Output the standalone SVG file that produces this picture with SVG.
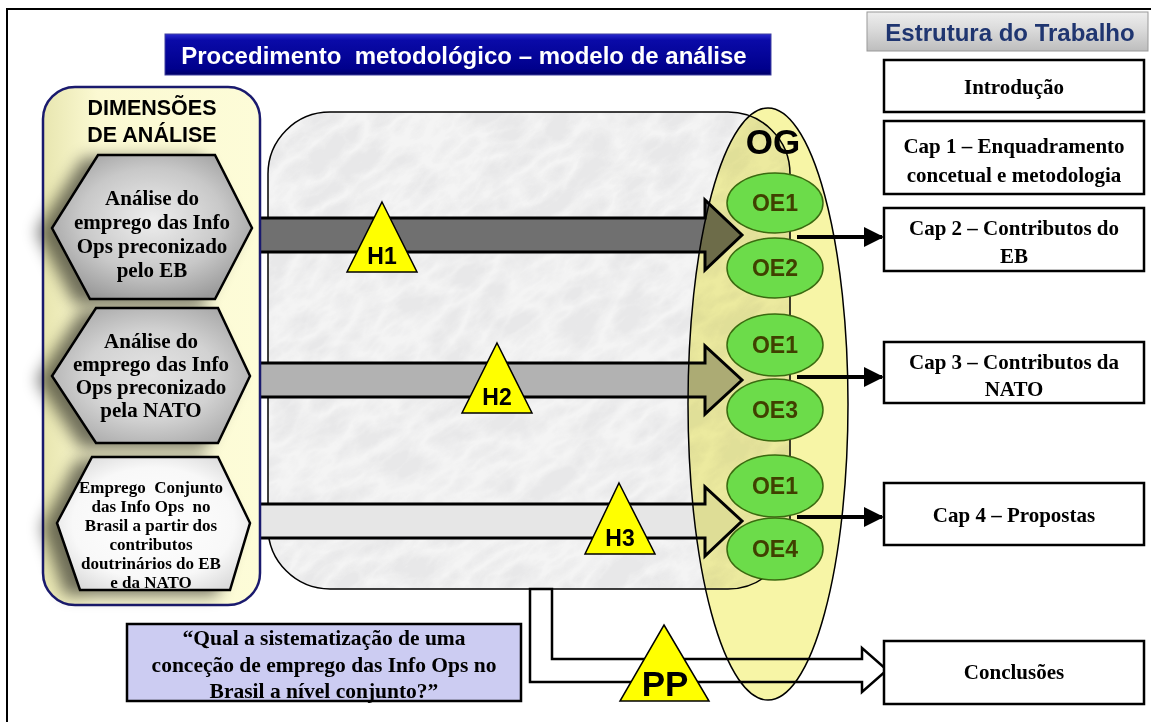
<svg xmlns="http://www.w3.org/2000/svg" width="1151" height="722" viewBox="0 0 1151 722">
<style>
.ar{font-family:"Liberation Sans",Arial,sans-serif;font-weight:bold}
.sf{font-family:"Liberation Serif","Times New Roman",serif;font-weight:bold;fill:#000}
.box{fill:#fff;stroke:#000;stroke-width:2.5}
.oe{fill:#6cdc4a;stroke:#3a6a10;stroke-width:1.5}
.oet{font-family:"Liberation Sans",Arial,sans-serif;font-weight:bold;font-size:23px;fill:#404000;text-anchor:middle}
.tri{fill:#ffff00;stroke:#000;stroke-width:1.5}
.trit{font-family:"Liberation Sans",Arial,sans-serif;font-weight:bold;fill:#000;text-anchor:middle}
.hx{stroke:#000;stroke-width:2.5}
.ht{font-family:"Liberation Serif","Times New Roman",serif;font-weight:bold;fill:#000;text-anchor:middle}
</style>
<defs>
<linearGradient id="gTitle" x1="0" y1="0" x2="0" y2="1">
<stop offset="0" stop-color="#2a2ad0"/><stop offset="0.15" stop-color="#0a0aa8"/><stop offset="0.85" stop-color="#00008c"/><stop offset="1" stop-color="#000066"/>
</linearGradient>
<linearGradient id="gEst" x1="0" y1="0" x2="0" y2="1">
<stop offset="0" stop-color="#eeeeee"/><stop offset="0.5" stop-color="#d8d8d8"/><stop offset="1" stop-color="#bdbdbd"/>
</linearGradient>
<linearGradient id="gPanel" x1="0" y1="0" x2="1" y2="0">
<stop offset="0" stop-color="#e8e6b0"/><stop offset="0.25" stop-color="#fbf9d2"/><stop offset="1" stop-color="#fdfcd8"/>
</linearGradient>
<radialGradient id="gHex1" cx="0.5" cy="0.45" r="0.6">
<stop offset="0" stop-color="#eeeeee"/><stop offset="0.6" stop-color="#c8c8c8"/><stop offset="1" stop-color="#9a9a9a"/>
</radialGradient>
<radialGradient id="gHex2" cx="0.5" cy="0.5" r="0.6">
<stop offset="0" stop-color="#e4e4e4"/><stop offset="0.55" stop-color="#d2d2d2"/><stop offset="1" stop-color="#a8a8a8"/>
</radialGradient>
<radialGradient id="gHex3" cx="0.5" cy="0.5" r="0.6">
<stop offset="0" stop-color="#ffffff"/><stop offset="0.7" stop-color="#f8f8f8"/><stop offset="1" stop-color="#dcdcdc"/>
</radialGradient>
<filter id="hshadow" x="-40%" y="-30%" width="180%" height="160%">
<feGaussianBlur in="SourceAlpha" stdDeviation="8"/>
<feOffset dx="-14" dy="4"/>
<feComponentTransfer><feFuncA type="linear" slope="0.55"/></feComponentTransfer>
<feMerge><feMergeNode/><feMergeNode in="SourceGraphic"/></feMerge>
</filter>
<filter id="marble" x="0" y="0" width="100%" height="100%">
<feTurbulence type="turbulence" baseFrequency="0.018 0.035" numOctaves="4" seed="11" result="n"/>
<feColorMatrix in="n" type="matrix" values="0 0 0 0 0.62  0 0 0 0 0.62  0 0 0 0 0.64  2.2 0 0 0 -0.25"/>
</filter>
<clipPath id="cMarble"><rect x="268" y="112" width="522" height="477" rx="62" ry="62"/></clipPath>
<marker id="mArr" viewBox="0 0 10 10" refX="9" refY="5" markerWidth="5" markerHeight="5" orient="auto" markerUnits="strokeWidth">
<path d="M0,0 L10,5 L0,10 z" fill="#000"/>
</marker>
</defs>

<rect x="0" y="0" width="1151" height="722" fill="#fff"/>
<path d="M7,722 L7,9 L1151,9" fill="none" stroke="#000" stroke-width="2"/>

<g id="title">
<rect x="165" y="34" width="606" height="41" fill="url(#gTitle)" stroke="#4040a0" stroke-width="1"/>
<text x="464" y="64" class="ar" font-size="24" fill="#fff" text-anchor="middle" style="white-space:pre">Procedimento  metodológico – modelo de análise</text>
</g>

<g id="estrutura">
<rect x="867" y="12" width="281" height="39" fill="url(#gEst)" stroke="#999" stroke-width="1"/>
<text x="1010" y="41" class="ar" font-size="24" fill="#1f3570" text-anchor="middle">Estrutura do Trabalho</text>
</g>

<g id="marble-area">
<rect x="268" y="112" width="522" height="477" rx="62" ry="62" fill="#f4f4f4"/>
<g clip-path="url(#cMarble)">
<rect x="100" y="-100" width="900" height="900" filter="url(#marble)" opacity="0.3" transform="rotate(-35 530 350)"/>
</g>
<rect x="268" y="112" width="522" height="477" rx="62" ry="62" fill="none" stroke="#000" stroke-width="1.5"/>
</g>

<g id="connectors">
<path d="M245,218 L705,218 L705,200 L742,235 L705,270 L705,252 L245,252" fill="#707070" stroke="#000" stroke-width="3"/>
<path d="M245,363 L705,363 L705,346 L742,380 L705,414 L705,397 L245,397" fill="#b2b2b2" stroke="#000" stroke-width="3"/>
<path d="M245,504 L705,504 L705,487 L742,521 L705,556 L705,538 L245,538" fill="#e6e6e6" stroke="#000" stroke-width="3"/>
<path d="M530,589 L552,589 L552,659 L862,659 L862,648 L887,670 L862,692 L862,682 L530,682 Z" fill="#fff" stroke="#000" stroke-width="2.5" stroke-linejoin="miter"/>
<line x1="797" y1="237" x2="882" y2="237" stroke="#000" stroke-width="4" marker-end="url(#mArr)"/>
<line x1="797" y1="377" x2="882" y2="377" stroke="#000" stroke-width="4" marker-end="url(#mArr)"/>
<line x1="797" y1="517" x2="882" y2="517" stroke="#000" stroke-width="4" marker-end="url(#mArr)"/>
</g>

<g id="dimensoes">
<rect x="43" y="87" width="217" height="518" rx="32" ry="32" fill="url(#gPanel)" stroke="#1a1a6e" stroke-width="2.5"/>
<text x="152" y="115" class="ar" font-size="21.5" fill="#000" text-anchor="middle">DIMENSÕES</text>
<text x="152" y="142" class="ar" font-size="21.5" fill="#000" text-anchor="middle">DE ANÁLISE</text>
</g>

<g id="hex1" filter="url(#hshadow)">
<polygon class="hx" points="98,155 215,155 252,228 215,299 90,299 52,228" fill="url(#gHex1)"/>
<text class="ht" font-size="21" x="152" y="205">Análise do</text>
<text class="ht" font-size="21" x="152" y="229">emprego das Info</text>
<text class="ht" font-size="21" x="152" y="253">Ops preconizado</text>
<text class="ht" font-size="21" x="152" y="277">pelo EB</text>
</g>

<g id="hex2" filter="url(#hshadow)">
<polygon class="hx" points="96,308 218,308 250,376 218,443 96,443 52,376" fill="url(#gHex2)"/>
<text class="ht" font-size="21" x="151" y="348">Análise do</text>
<text class="ht" font-size="21" x="151" y="371">emprego das Info</text>
<text class="ht" font-size="21" x="151" y="394">Ops preconizado</text>
<text class="ht" font-size="21" x="151" y="417">pela NATO</text>
</g>

<g id="hex3" filter="url(#hshadow)">
<polygon class="hx" points="92,457 218,457 250,523 230,590 80,590 57,523" fill="url(#gHex3)"/>
<text class="ht" font-size="17" x="151" y="493" style="white-space:pre">Emprego  Conjunto</text>
<text class="ht" font-size="17" x="151" y="512" style="white-space:pre">das Info Ops  no</text>
<text class="ht" font-size="17" x="151" y="531">Brasil a partir dos</text>
<text class="ht" font-size="17" x="151" y="550">contributos</text>
<text class="ht" font-size="17" x="151" y="569">doutrinários do EB</text>
<text class="ht" font-size="17" x="151" y="588">e da NATO</text>
</g>

<g id="og">
<ellipse cx="768" cy="404" rx="80" ry="296" fill="#f7f5a6" stroke="#000" stroke-width="1.5" style="mix-blend-mode:multiply"/>
<text x="773" y="154" class="ar" font-size="35" fill="#000" text-anchor="middle">OG</text>
</g>

<g id="oe-eb">
<ellipse class="oe" cx="775" cy="203" rx="48" ry="30"/>
<text class="oet" x="775" y="211">OE1</text>
<ellipse class="oe" cx="775" cy="268" rx="48" ry="30"/>
<text class="oet" x="775" y="276">OE2</text>
</g>
<g id="oe-nato">
<ellipse class="oe" cx="775" cy="345" rx="48" ry="31"/>
<text class="oet" x="775" y="353">OE1</text>
<ellipse class="oe" cx="775" cy="410" rx="48" ry="31"/>
<text class="oet" x="775" y="418">OE3</text>
</g>
<g id="oe-conj">
<ellipse class="oe" cx="775" cy="486" rx="48" ry="31"/>
<text class="oet" x="775" y="494">OE1</text>
<ellipse class="oe" cx="775" cy="549" rx="48" ry="31"/>
<text class="oet" x="775" y="557">OE4</text>
</g>

<g id="h1"><polygon class="tri" points="382,202 417,272 347,272"/><text class="trit" font-size="23" x="382" y="264">H1</text></g>
<g id="h2"><polygon class="tri" points="497,343 532,413 462,413"/><text class="trit" font-size="23" x="497" y="405">H2</text></g>
<g id="h3"><polygon class="tri" points="619,483 655,554 585,554"/><text class="trit" font-size="23" x="620" y="546">H3</text></g>
<g id="pp"><polygon class="tri" points="664,625 709,701 620,701"/><text class="trit" font-size="35" x="665" y="696">PP</text></g>

<g id="pergunta">
<rect x="127" y="624" width="394" height="77" fill="#ccccf2" stroke="#000" stroke-width="2.5"/>
<text class="sf" font-size="21.5" x="324" y="645" text-anchor="middle">“Qual a sistematização de uma</text>
<text class="sf" font-size="21.5" x="324" y="672" text-anchor="middle">conceção de emprego das Info Ops no</text>
<text class="sf" font-size="21.5" x="324" y="698" text-anchor="middle">Brasil a nível conjunto?”</text>
</g>

<g id="introducao"><rect class="box" x="884" y="60" width="260" height="52"/><text class="sf" font-size="21" x="1014" y="94" text-anchor="middle">Introdução</text></g>
<g id="cap1"><rect class="box" x="884" y="121" width="260" height="73"/><text class="sf" font-size="21" x="1014" y="153" text-anchor="middle">Cap 1 – Enquadramento</text><text class="sf" font-size="21" x="1014" y="182" text-anchor="middle">concetual e metodologia</text></g>
<g id="cap2"><rect class="box" x="884" y="208" width="260" height="63"/><text class="sf" font-size="21" x="1014" y="235" text-anchor="middle">Cap 2 – Contributos do</text><text class="sf" font-size="21" x="1014" y="263" text-anchor="middle">EB</text></g>
<g id="cap3"><rect class="box" x="884" y="342" width="260" height="61"/><text class="sf" font-size="21" x="1014" y="369" text-anchor="middle">Cap 3 – Contributos da</text><text class="sf" font-size="21" x="1014" y="396" text-anchor="middle">NATO</text></g>
<g id="cap4"><rect class="box" x="884" y="483" width="260" height="62"/><text class="sf" font-size="21" x="1014" y="522" text-anchor="middle">Cap 4 – Propostas</text></g>
<g id="conclusoes"><rect class="box" x="884" y="641" width="260" height="63"/><text class="sf" font-size="21" x="1014" y="679" text-anchor="middle">Conclusões</text></g>
</svg>
